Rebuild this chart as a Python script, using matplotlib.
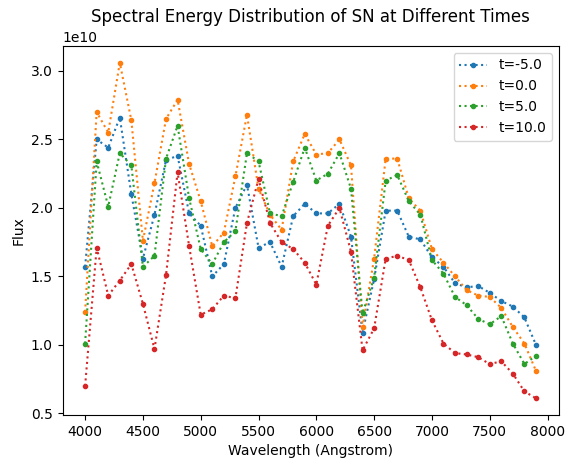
import numpy as np
import matplotlib
matplotlib.use('Agg')
import matplotlib.pyplot as plt

wavelength = np.arange(4000, 8000, 100)

times = [-5.0, 0.0, 5.0, 10.0]

# flux values in units of 1e10
flux_m5 = [1.57, 2.50, 2.44, 2.66, 2.10, 1.63, 1.95, 2.35, 2.38, 1.96,
           1.87, 1.50, 1.59, 2.00, 2.17, 1.71, 1.75, 1.57, 1.94, 2.03,
           1.96, 1.96, 2.03, 1.79, 1.09, 1.48, 1.98, 1.98, 1.79, 1.77,
           1.64, 1.57, 1.45, 1.42, 1.43, 1.38, 1.32, 1.28, 1.20, 1.00]
flux_0 = [1.24, 2.70, 2.55, 3.06, 2.64, 1.76, 2.18, 2.65, 2.79, 2.32,
          2.05, 1.72, 1.82, 2.23, 2.68, 2.14, 1.95, 1.84, 2.34, 2.54,
          2.39, 2.40, 2.50, 2.31, 1.13, 1.63, 2.36, 2.36, 2.07, 1.98,
          1.70, 1.60, 1.50, 1.40, 1.36, 1.35, 1.27, 1.13, 1.01, 0.81]
flux_5 = [1.01, 2.34, 2.01, 2.40, 2.31, 1.57, 1.65, 2.36, 2.60, 2.07,
          1.70, 1.59, 1.75, 1.83, 2.40, 2.34, 1.96, 1.94, 2.19, 2.44,
          2.20, 2.25, 2.40, 2.14, 1.23, 1.49, 2.20, 2.24, 2.05, 1.95,
          1.62, 1.52, 1.35, 1.29, 1.19, 1.15, 1.21, 1.01, 0.86, 0.92]
flux_10 = [0.70, 1.71, 1.36, 1.47, 1.59, 1.30, 0.97, 1.51, 2.26, 1.72,
           1.22, 1.26, 1.36, 1.34, 1.89, 2.21, 1.89, 1.75, 1.70, 1.60,
           1.44, 1.87, 2.00, 1.68, 0.96, 1.12, 1.63, 1.65, 1.62, 1.42,
           1.18, 1.01, 0.94, 0.93, 0.91, 0.86, 0.88, 0.79, 0.66, 0.61]

fluxes = [flux_m5, flux_0, flux_5, flux_10]

fig, ax = plt.subplots(figsize=(5.74, 4.69), dpi=100)
fig.subplots_adjust(left=0.109, right=0.973, top=0.902, bottom=0.115)

for t, f in zip(times, fluxes):
    ax.plot(wavelength, np.array(f) * 1e10, 'o:', markersize=3, label=f"t={t}")

ax.set_title("Spectral Energy Distribution of SN at Different Times")
ax.set_xlabel("Wavelength (Angstrom)")
ax.set_ylabel("Flux")
ax.legend()

fig.savefig("out.png")
